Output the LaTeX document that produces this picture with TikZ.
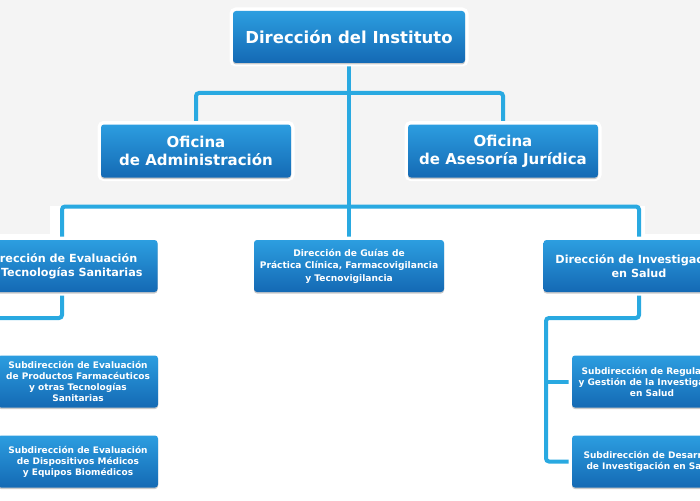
\documentclass[tikz,border=0pt]{standalone}
\usepackage{fontspec}
\setmainfont{DejaVu Sans}
\usetikzlibrary{shadows}
\pgfdeclarelayer{bgl}
\pgfdeclarelayer{linkl}
\pgfsetlayers{bgl,linkl,main}
\definecolor{bggray}{HTML}{F4F4F4}
\definecolor{linkblue}{HTML}{29A9E1}
\definecolor{boxtop}{HTML}{2C9EE0}
\definecolor{boxbot}{HTML}{1469B4}
\tikzset{
  orgbox/.style={rounded corners=3pt, text=white, align=center,
    top color=boxtop, bottom color=boxbot, inner sep=0pt,
    preaction={draw=white, line width=7pt},
    drop shadow={shadow xshift=0pt, shadow yshift=-1.5pt, opacity=0.35, fill=black!60},
    font=\bfseries},
  toplevel/.style={orgbox, minimum width=232pt, minimum height=52pt,
    font=\bfseries\fontsize{16.5}{20}\selectfont},
  office/.style={orgbox, minimum width=190pt, minimum height=53pt,
    font=\bfseries\fontsize{15}{18}\selectfont},
  dirbox/.style={orgbox, minimum width=191pt, minimum height=52pt,
    font=\bfseries\fontsize{11.2}{14}\selectfont},
  dirsmall/.style={orgbox, minimum width=190pt, minimum height=52pt,
    font=\bfseries\fontsize{9.1}{12.5}\selectfont},
  subbox/.style={orgbox, minimum width=160pt, minimum height=52pt,
    font=\bfseries\fontsize{9}{11}\selectfont},
  link/.style={draw=linkblue, line width=4pt, rounded corners=3pt}
}
\begin{document}
\begin{tikzpicture}[x=1pt,y=-1pt]
\useasboundingbox (0,0) rectangle (700,500);
\clip (0,0) rectangle (700,500);
% boxes
\node[toplevel] (top) at (349,37) {Dirección del Instituto};
\node[office] (ofiA) at (196,151) {Oficina\\de Administración};
\node[office] (ofiJ) at (503,151) {Oficina\\de Asesoría Jurídica};
\node[dirbox] (deval) at (62,266) {Dirección de Evaluación\\de Tecnologías Sanitarias};
\node[dirsmall] (dguias) at (349,266) {Dirección de Guías de\\Práctica Clínica, Farmacovigilancia\\y Tecnovigilancia};
\node[dirbox] (dinv) at (639,266) {Dirección de Investigación\\en Salud};
\node[subbox] (s1) at (78,381.5) {Subdirección de Evaluación\\de Productos Farmacéuticos\\y otras Tecnologías\\Sanitarias};
\node[subbox] (s2) at (78,461.5) {Subdirección de Evaluación\\de Dispositivos Médicos\\y Equipos Biomédicos};
\node[subbox] (s3) at (652,381.5) {Subdirección de Regulación\\y Gestión de la Investigación\\en Salud};
\node[subbox] (s4) at (652,461.5) {Subdirección de Desarrollo\\de Investigación en Salud};
% junction coordinates
\coordinate (j1) at (349,93);
\coordinate (j2) at (349,206.5);
\coordinate (lc) at (-15,318);
\coordinate (rc) at (546,318);
\begin{pgfonlayer}{bgl}
\fill[white] (0,0) rectangle (700,500);
\fill[bggray] (0,0) rectangle (700,206);
\fill[bggray] (0,0) rectangle (50,234);
\fill[bggray] (645,0) rectangle (700,234);
\end{pgfonlayer}
\begin{pgfonlayer}{linkl}
\draw[link] (top.south) -- (dguias.north);
\draw[link] (ofiA.north) |- (j1) -| (ofiJ.north);
\draw[link] (deval.north) |- (j2) -| (dinv.north);
\draw[link] (deval.south) |- (lc);
\draw[link] (lc) |- (s1.west);
\draw[link] (lc) |- (s2.west);
\draw[link] (dinv.south) |- (rc) |- (s4.west);
\draw[link] (rc |- s3.west) -- (s3.west);
\end{pgfonlayer}
\end{tikzpicture}
\end{document}
